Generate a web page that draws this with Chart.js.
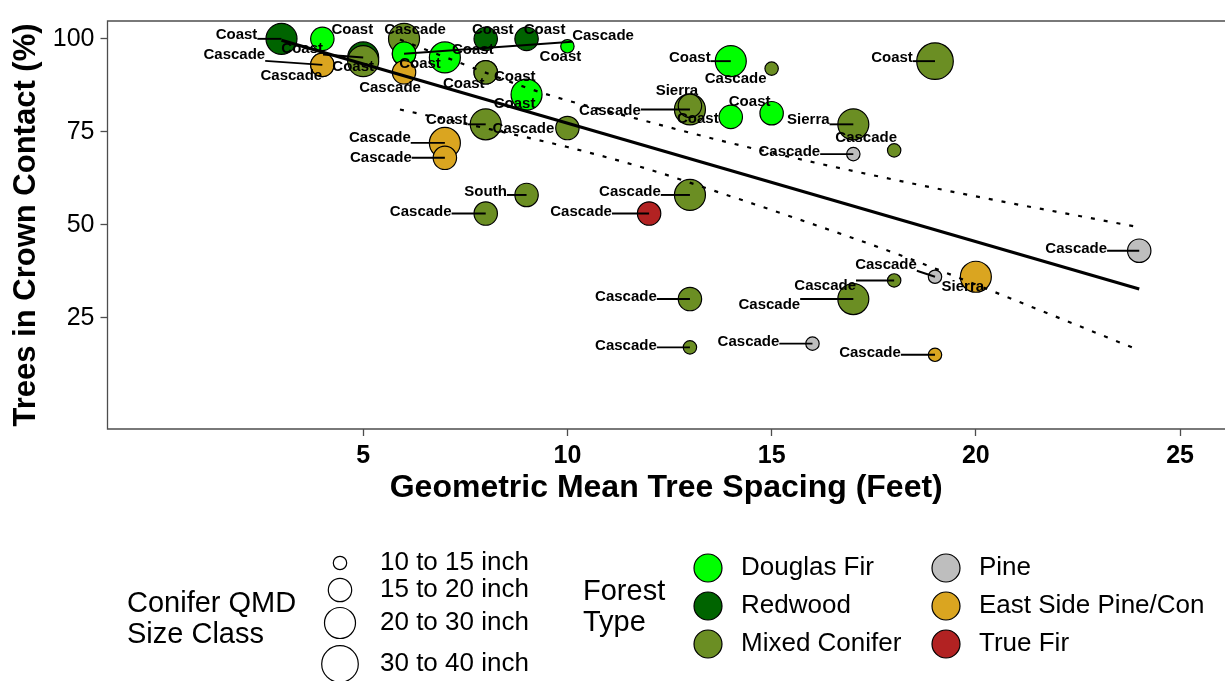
<!DOCTYPE html>
<html>
<head>
<meta charset="utf-8">
<script src="https://cdn.jsdelivr.net/npm/chart.js@4.4.0/dist/chart.umd.min.js"></script>
<style>
  html, body { margin: 0; padding: 0; background: #fff; }
  canvas { display: block; }
</style>
</head>
<body>
<canvas id="crownChart" width="1225" height="681"></canvas>
<script>
const FONT = "'Liberation Sans', Arial, sans-serif";

// plot-level values: spacing (ft), crown contact (%), forest type, QMD class, region
const spacing = [3, 4, 4, 4, 5, 5, 6, 6, 6, 6, 7, 8, 9, 10, 8, 8, 9, 8, 10, 7, 7, 9,
  8, 12, 13, 13, 13, 14, 15, 19, 13, 13, 14, 15, 17, 18, 17, 18, 19, 20, 17, 16, 19, 24];
const crownContact = [100, 100, 93, 93, 95, 94, 100, 96, 96, 91, 95, 100, 100, 98, 91, 91, 85, 77, 76, 72, 68, 58,
  53, 53, 58, 30, 17, 94, 92, 94, 81, 82, 79, 80, 77, 70, 69, 35, 36, 36, 30, 18, 15, 43];
const forestType = [
  'Redwood', 'Douglas Fir', 'East Side Pine/Con', 'East Side Pine/Con', 'Redwood', 'Mixed Conifer',
  'Mixed Conifer', 'Douglas Fir', 'Douglas Fir', 'East Side Pine/Con', 'Douglas Fir', 'Redwood',
  'Redwood', 'Douglas Fir', 'Mixed Conifer', 'Mixed Conifer', 'Douglas Fir', 'Mixed Conifer',
  'Mixed Conifer', 'East Side Pine/Con', 'East Side Pine/Con', 'Mixed Conifer', 'Mixed Conifer', 'True Fir',
  'Mixed Conifer', 'Mixed Conifer', 'Mixed Conifer', 'Douglas Fir', 'Mixed Conifer', 'Mixed Conifer',
  'Mixed Conifer', 'Mixed Conifer', 'Douglas Fir', 'Douglas Fir', 'Mixed Conifer', 'Mixed Conifer',
  'Pine', 'Mixed Conifer', 'Pine', 'East Side Pine/Con', 'Mixed Conifer', 'Pine',
  'East Side Pine/Con', 'Pine'];
const sizeClass = [
  '20-30', '15-20', '15-20', '15-20', '20-30', '20-30', '20-30', '15-20', '15-20', '15-20', '20-30',
  '15-20', '15-20', '10-15', '15-20', '15-20', '20-30', '20-30', '15-20', '20-30', '15-20', '15-20',
  '15-20', '15-20', '20-30', '15-20', '10-15', '20-30', '10-15', '30-40', '20-30', '15-20', '15-20',
  '15-20', '20-30', '10-15', '10-15', '10-15', '10-15', '20-30', '20-30', '10-15', '10-15', '15-20'];
const region = [
  'Coast', 'Coast', 'Cascade', 'Cascade', 'Coast', 'Coast', 'Cascade', 'Coast', 'Cascade', 'Cascade', 'Coast',
  'Coast', 'Coast', 'Coast', 'Coast', 'Coast', 'Coast', 'Coast', 'Cascade', 'Cascade', 'Cascade', 'South',
  'Cascade', 'Cascade', 'Cascade', 'Cascade', 'Cascade', 'Coast', 'Cascade', 'Coast', 'Cascade', 'Sierra', 'Coast',
  'Coast', 'Sierra', 'Cascade', 'Cascade', 'Cascade', 'Cascade', 'Sierra', 'Cascade', 'Cascade', 'Cascade', 'Cascade'];

// fitted line and its band
const fitX = [3, 24];
const fitY = [99.6, 32.7];
const upperX = [5.9, 7, 9.4, 11.6, 14.4, 19.1, 24];
const upperY = [99.8, 95.1, 85.4, 78.8, 70.9, 59.6, 49.3];
const lowerX = [5.9, 8.1, 10, 11.9, 13.6, 15.6, 18.1, 22.2, 24];
const lowerY = [81.0, 75.7, 70.9, 65.2, 59.1, 51.7, 42.0, 24.2, 16.2];

const xTicks = [5, 10, 15, 20, 25];
const yTicks = [25, 50, 75, 100];

const sizeClasses = ['10-15', '15-20', '20-30', '30-40'];
const sizeLabels = ['10 to 15 inch', '15 to 20 inch', '20 to 30 inch', '30 to 40 inch'];
const forestTypes = ['Douglas Fir', 'Redwood', 'Mixed Conifer', 'Pine', 'East Side Pine/Con', 'True Fir'];

// styling
const typeColors = ['#00ff00', '#006400', '#6b8e23', '#bebebe', '#daa520', '#b22222'];
const sizeRadius = [6.7, 11.7, 15.5, 18.3];
// where each region label sits relative to its point, in pixels
const labelNudge = [
  [-45, -4], [30, -9], [-31, 11], [-88, -10], [-61, -9], [-10, 6], [11, -9], [16, 10], [199, -18], [-14, 16],
  [28, -8], [7, -9], [18, -9], [-7, 11], [-22, 12], [29, 5], [-12, 9], [-39, -4], [-44, 1], [-65, -5],
  [-64, 0], [-41, -3], [-65, -2], [-68, -2], [-60, -3], [-64, -2], [-64, -2], [-41, -3], [-36, 10], [-43, -3],
  [-80, 1], [-13, -15], [-33, 2], [-22, -11], [-45, -4], [-28, -12], [-64, -2], [-69, 5], [-49, -12], [-13, 10],
  [-84, 6], [-64, -2], [-65, -2], [-63, -2]];

const radiusOf = i => sizeRadius[sizeClasses.indexOf(sizeClass[i])];
const colorOf = i => typeColors[forestTypes.indexOf(forestType[i])];

const pairs = (xs, ys) => xs.map((x, i) => ({x, y: ys[i]}));

// region labels with leader segments, drawn over the points
const regionLabels = {
  id: 'regionLabels',
  afterDatasetsDraw(chart) {
    const {ctx, scales: {x, y}} = chart;
    ctx.save();
    ctx.font = 'bold 15px ' + FONT;
    const items = region.map((text, i) => {
      const px = x.getPixelForValue(spacing[i]);
      const py = y.getPixelForValue(crownContact[i]);
      const cx = px + labelNudge[i][0];
      const cy = py + labelNudge[i][1];
      const w = ctx.measureText(text).width;
      return {text, px, py, cx, cy, w, h: 12, r: radiusOf(i)};
    });
    ctx.strokeStyle = '#000';
    ctx.lineWidth = 1.9;
    items.forEach(it => {
      const ex = Math.min(Math.max(it.px, it.cx - it.w / 2), it.cx + it.w / 2);
      const ey = Math.min(Math.max(it.py, it.cy - it.h / 2), it.cy + it.h / 2);
      const d = Math.hypot(it.px - ex, it.py - ey);
      if (d > it.r + 1.5) {
        ctx.beginPath();
        ctx.moveTo(ex, ey);
        ctx.lineTo(it.px, it.py);
        ctx.stroke();
      }
    });
    ctx.fillStyle = '#000';
    ctx.textAlign = 'center';
    ctx.textBaseline = 'middle';
    items.forEach(it => ctx.fillText(it.text, it.cx, it.cy));
    ctx.restore();
  }
};

const panelFrame = {
  id: 'panelFrame',
  afterDraw(chart) {
    const {ctx, chartArea: a} = chart;
    ctx.save();
    ctx.strokeStyle = '#4d4d4d';
    ctx.lineWidth = 1.3;
    ctx.beginPath();
    ctx.moveTo(a.right + 2, a.top);
    ctx.lineTo(a.left, a.top);
    ctx.lineTo(a.left, a.bottom);
    ctx.lineTo(a.right + 2, a.bottom);
    ctx.stroke();
    ctx.restore();
  }
};

// the two keys under the plot
const keys = {
  id: 'keys',
  afterDraw(chart) {
    const ctx = chart.ctx;
    ctx.save();
    ctx.fillStyle = '#000';
    ctx.textAlign = 'left';
    ctx.textBaseline = 'middle';
    ctx.font = '29px ' + FONT;
    ctx.fillText('Conifer QMD', 127, 604);
    ctx.fillText('Size Class', 127, 635);
    ctx.fillText('Forest', 583, 592);
    ctx.fillText('Type', 583, 623);

    const sizeRows = [563, 590, 623, 664];
    ctx.font = '26px ' + FONT;
    ctx.lineWidth = 1.2;
    ctx.strokeStyle = '#000';
    sizeLabels.forEach((label, i) => {
      ctx.beginPath();
      ctx.arc(340, sizeRows[i], sizeRadius[i], 0, Math.PI * 2);
      ctx.fillStyle = '#fff';
      ctx.fill();
      ctx.stroke();
      ctx.fillStyle = '#000';
      ctx.fillText(label, 380, sizeRows[i]);
    });

    forestTypes.forEach((label, i) => {
      const col = Math.floor(i / 3);
      const cy = 568 + (i % 3) * 38;
      const cx = col === 0 ? 708 : 946;
      ctx.beginPath();
      ctx.arc(cx, cy, 14, 0, Math.PI * 2);
      ctx.fillStyle = typeColors[i];
      ctx.fill();
      ctx.stroke();
      ctx.fillStyle = '#000';
      ctx.fillText(label, cx + 33, cy);
    });
    ctx.restore();
  }
};

const ctx = document.getElementById('crownChart').getContext('2d');
new Chart(ctx, {
  type: 'scatter',
  data: {
    datasets: [
      {
        type: 'line',
        label: 'fit',
        data: pairs(fitX, fitY),
        borderColor: '#000',
        borderWidth: 3.2,
        pointRadius: 0,
        fill: false,
        order: 1
      },
      {
        type: 'line',
        label: 'upper',
        data: pairs(upperX, upperY),
        borderColor: '#000',
        borderWidth: 2.2,
        borderDash: [4, 9],
        cubicInterpolationMode: 'monotone',
        pointRadius: 0,
        fill: false,
        order: 2
      },
      {
        type: 'line',
        label: 'lower',
        data: pairs(lowerX, lowerY),
        borderColor: '#000',
        borderWidth: 2.2,
        borderDash: [4, 9],
        cubicInterpolationMode: 'monotone',
        pointRadius: 0,
        fill: false,
        order: 2
      },
      {
        label: 'plots',
        data: pairs(spacing, crownContact),
        pointRadius: spacing.map((_, i) => radiusOf(i)),
        pointHoverRadius: spacing.map((_, i) => radiusOf(i)),
        pointBackgroundColor: spacing.map((_, i) => colorOf(i)),
        pointBorderColor: '#000',
        pointBorderWidth: 1.2,
        order: 3
      }
    ]
  },
  options: {
    responsive: false,
    animation: false,
    events: [],
    layout: {autoPadding: false, padding: {left: 0, top: 11, right: 0, bottom: 174}},
    plugins: {legend: {display: false}, tooltip: {enabled: false}},
    scales: {
      x: {
        type: 'linear',
        min: -1.26,
        max: 26.1,
        afterBuildTicks: s => { s.ticks = xTicks.map(v => ({value: v})); },
        afterFit: s => { s.height = 78; },
        border: {display: false},
        grid: {drawOnChartArea: false, tickLength: 7, tickColor: '#4d4d4d', tickWidth: 1.3},
        ticks: {color: '#000', padding: 5, font: {family: FONT, size: 25, weight: 'bold'}},
        title: {
          display: true,
          text: 'Geometric Mean Tree Spacing (Feet)',
          color: '#000',
          padding: 0,
          font: {family: FONT, size: 32, weight: 'bold'}
        }
      },
      y: {
        type: 'linear',
        min: -4.96,
        max: 104.8,
        afterBuildTicks: s => { s.ticks = yTicks.map(v => ({value: v})); },
        afterFit: s => { s.width = 107.5; },
        border: {display: false},
        grid: {drawOnChartArea: false, tickLength: 7, tickColor: '#4d4d4d', tickWidth: 1.3},
        ticks: {color: '#000', padding: 6, font: {family: FONT, size: 25}},
        title: {
          display: true,
          text: 'Trees in Crown Contact (%)',
          color: '#000',
          padding: {top: 8, bottom: 0},
          font: {family: FONT, size: 31, weight: 'bold'}
        }
      }
    }
  },
  plugins: [regionLabels, panelFrame, keys]
});
</script>
</body>
</html>
